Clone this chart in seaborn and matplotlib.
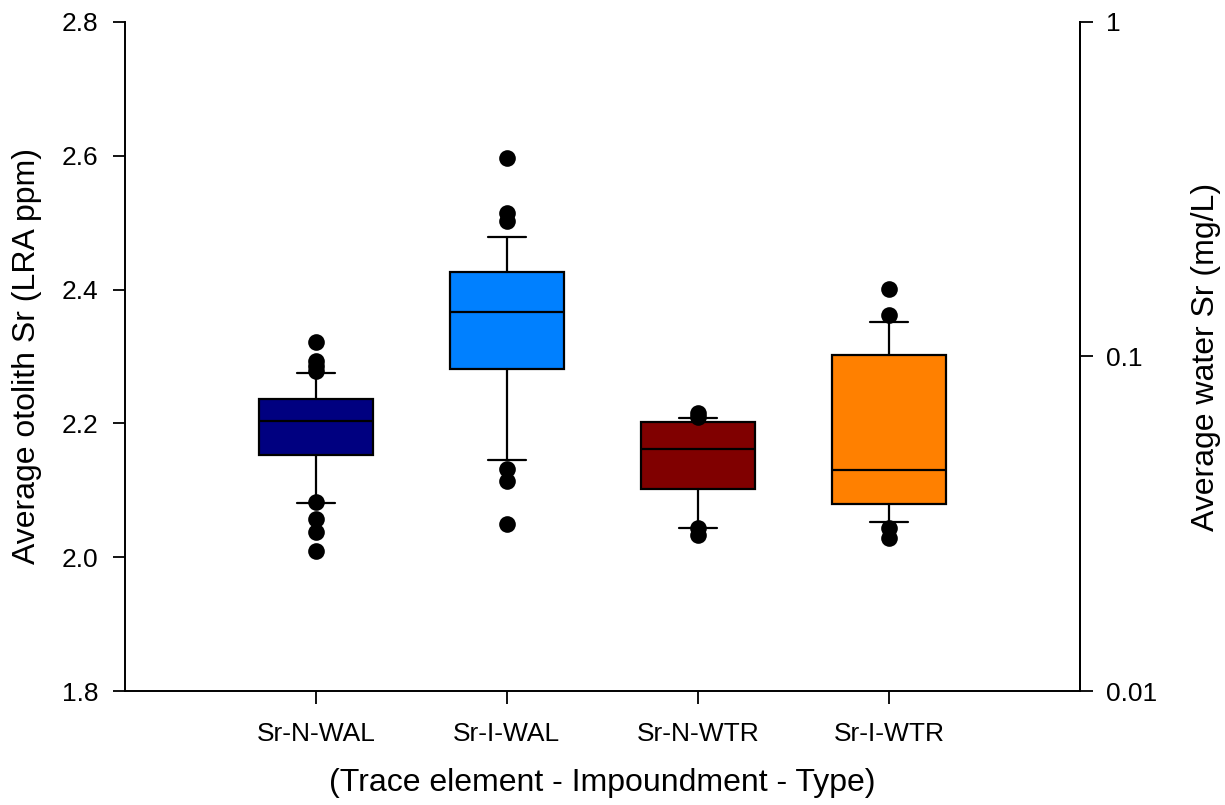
import matplotlib
matplotlib.use("Agg")
import matplotlib.pyplot as plt
import seaborn as sns
import pandas as pd
from matplotlib.ticker import FixedLocator, NullLocator

categories = ["Sr-N-WAL", "Sr-I-WAL", "Sr-N-WTR", "Sr-I-WTR"]
colors = ["#000080", "#0080FF", "#800000", "#FF8000"]
q1 = [2.153, 2.282, 2.102, 2.079]
median = [2.204, 2.366, 2.162, 2.130]
q3 = [2.237, 2.427, 2.202, 2.302]
whis_lo = [2.081, 2.146, 2.044, 2.052]
whis_hi = [2.276, 2.479, 2.208, 2.351]
fliers = [
    [2.322, 2.294, 2.286, 2.279, 2.082, 2.057, 2.038, 2.010],
    [2.596, 2.514, 2.502, 2.132, 2.114, 2.050],
    [2.216, 2.209, 2.043, 2.033],
    [2.401, 2.362, 2.044, 2.028],
]

sns.set_style("ticks")
plt.rcParams["font.family"] = ["Liberation Sans", "DejaVu Sans"]
plt.rcParams["text.color"] = "black"
plt.rcParams["axes.labelcolor"] = "black"

fig = plt.figure(figsize=(12.25, 8.05), dpi=100)
ax = fig.add_axes([0.102, 0.1416, 0.7795, 0.8311])

stats = []
for i, c in enumerate(categories):
    stats.append(dict(label=c, q1=q1[i], med=median[i], q3=q3[i],
                      whislo=whis_lo[i], whishi=whis_hi[i], fliers=[]))

bp = ax.bxp(stats, positions=range(len(categories)), widths=0.6, capwidths=0.2,
            patch_artist=True, showfliers=False,
            boxprops=dict(linewidth=1.6, edgecolor="black"),
            medianprops=dict(color="black", linewidth=1.6),
            whiskerprops=dict(color="black", linewidth=1.6),
            capprops=dict(color="black", linewidth=1.6))
for patch, col in zip(bp["boxes"], colors):
    patch.set_facecolor(col)

fl_rows = [(categories[i], v) for i in range(len(categories)) for v in fliers[i]]
fl_df = pd.DataFrame(fl_rows, columns=["group", "value"])
sns.stripplot(data=fl_df, x="group", y="value", order=categories, jitter=False,
              color="black", size=12, linewidth=0, ax=ax, zorder=5)

ax.set_xlim(-1, 4)
ax.set_ylim(1.8, 2.8)
ax.set_yticks([1.8, 2.0, 2.2, 2.4, 2.6, 2.8])
ax.set_yticklabels(["1.8", "2.0", "2.2", "2.4", "2.6", "2.8"])
ax.set_xticks(range(len(categories)))
ax.set_xticklabels(categories)
ax.set_ylabel("Average otolith Sr (LRA ppm)", fontsize=23, labelpad=14)
ax.set_xlabel("(Trace element - Impoundment - Type)", fontsize=23, labelpad=16)
ax.tick_params(axis="both", labelsize=19, length=9, width=1.3, direction="out",
               color="black", labelcolor="black", pad=10)
ax.tick_params(axis="x", pad=13)
for s in ["left", "bottom", "right"]:
    ax.spines[s].set_linewidth(1.4)
    ax.spines[s].set_color("black")
ax.spines["top"].set_visible(False)

ax2 = ax.twinx()
ax2.set_yscale("log")
ax2.set_ylim(0.01, 1)
ax2.yaxis.set_major_locator(FixedLocator([0.01, 0.1, 1]))
ax2.yaxis.set_minor_locator(NullLocator())
ax2.set_yticklabels(["0.01", "0.1", "1"])
ax2.set_ylabel("Average water Sr (mg/L)", fontsize=23, labelpad=24)
ax2.tick_params(axis="y", labelsize=19, length=9, width=1.3, direction="out",
                color="black", labelcolor="black", pad=10)
for s in ["top", "left", "bottom"]:
    ax2.spines[s].set_visible(False)
ax2.spines["right"].set_linewidth(1.4)
ax2.spines["right"].set_color("black")

fig.savefig("out.png", dpi=100)
